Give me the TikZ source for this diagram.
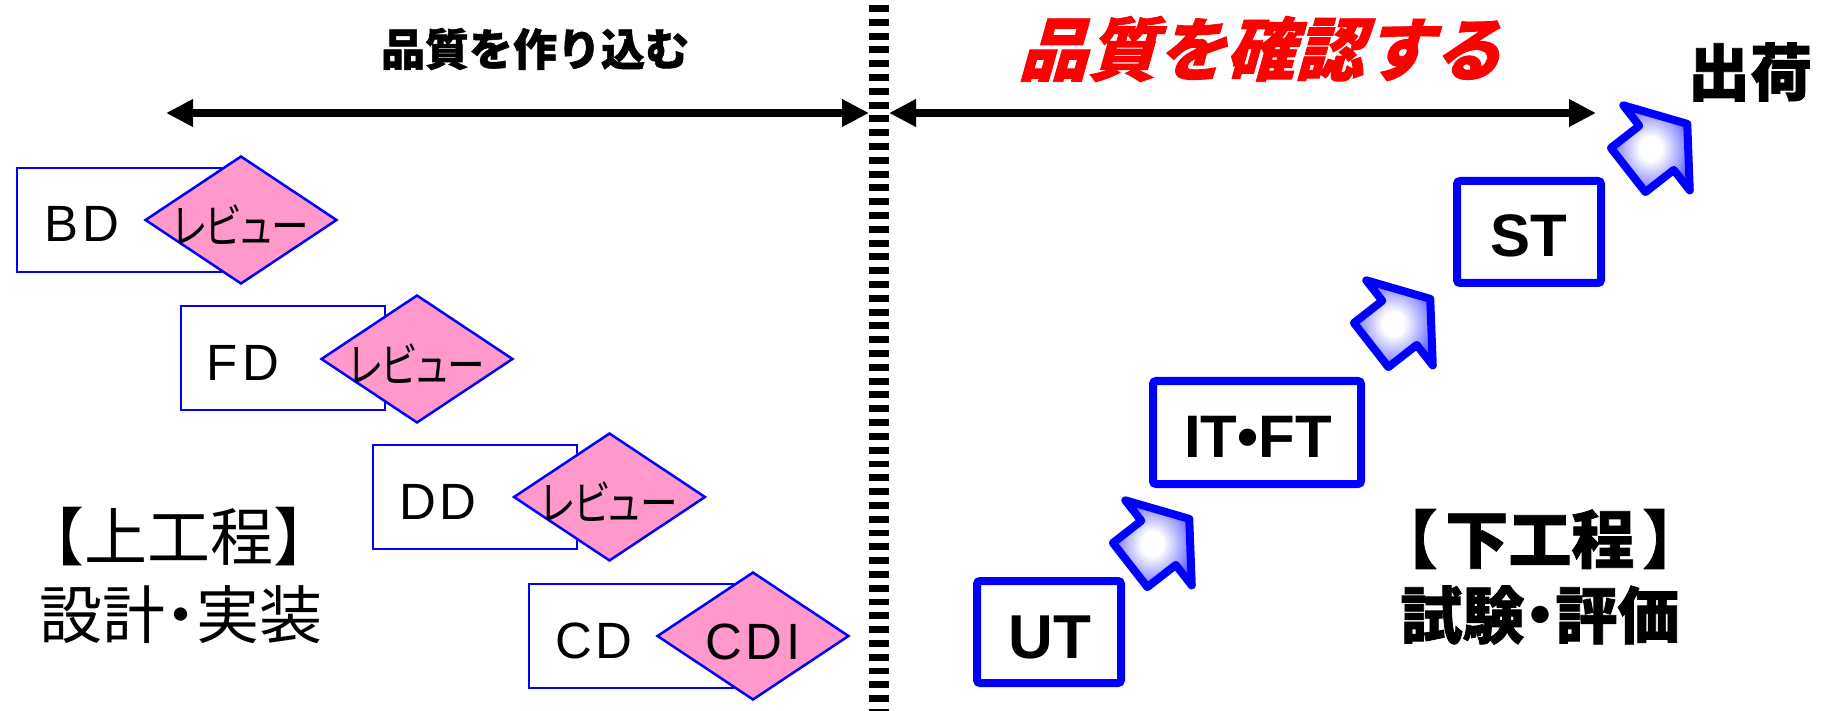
\documentclass[tikz,border=0pt]{standalone}
\usepackage{fontspec}
\setmainfont{Liberation Sans}
\newfontfamily\jp{Noto Sans CJK JP}
\newfontfamily\jph[FakeBold=1.2]{Noto Sans CJK JP}
\newfontfamily\jpp[RawFeature=+palt]{Noto Sans CJK JP}
\newfontfamily\jpit[FakeSlant=0.28, FakeBold=1.2]{Noto Sans CJK JP}
\newfontfamily\lat[LetterSpace=8]{Liberation Sans}
\usetikzlibrary{shapes.geometric,arrows.meta}
\definecolor{pinkfill}{RGB}{255,153,204}
\pgfdeclareradialshading{arrowshade}{\pgfpoint{0bp}{0bp}}{color(0bp)=(white); color(7bp)=(white); color(20bp)=(blue!40!white); color(36bp)=(blue); color(50bp)=(blue)}
\tikzset{
  dbox/.style={draw=blue, line width=2.5pt, minimum width=204pt, minimum height=104pt, inner sep=0pt, fill=white},
  rev/.style={diamond, draw=blue, line width=2.5pt, fill=pinkfill, minimum width=192pt, minimum height=128pt, inner sep=0pt, aspect=1.5},
  dlabel/.style={anchor=base, inner sep=0pt, font=\lat\fontsize{51}{51}\selectfont},
  rlabel/.style={inner sep=0pt, font=\jpp\fontsize{47}{47}\selectfont},
  tbox/.style={draw=blue, line width=8pt, rounded corners=3pt, inner sep=0pt, fill=white},
  tlabel/.style={anchor=base, inner sep=0pt, font=\bfseries\fontsize{62}{62}\selectfont},
  blockarrow/.style={draw=blue, line width=8pt, line join=round, shading=arrowshade},
  dbl/.style={line width=8pt, {Triangle[length=27pt,width=26pt]}-{Triangle[length=27pt,width=26pt]}},
}
\newcommand\barrowat[1]{\shadedraw[blockarrow, shift={#1}, rotate=38] (4,-28) -- (40,-28) -- (40,-54) -- (79,0) -- (40,54) -- (40,28) -- (4,28) -- cycle;}
\newcommand\review{\scalebox{0.8}[1]{レビュー}}
\begin{document}
\begin{tikzpicture}[x=1pt, y=-1pt]
\useasboundingbox (0,0) rectangle (1824,711);
\fill[white] (0,0) rectangle (1824,711);

% top titles
\node[inner sep=0pt, font=\jph\bfseries\fontsize{44}{44}\selectfont] (t1) at (535,49) {品質を作り込む};
\node[inner sep=0pt, text=red, font=\jpit\bfseries\fontsize{69}{69}\selectfont] (t2) at (1260,49) {品質を確認する};
\node[inner sep=0pt, font=\jph\bfseries\fontsize{62}{62}\selectfont] (ship) at (1750,72) {出荷};

% top arrows
\coordinate (la) at (166,113);
\coordinate (lb) at (869,113);
\coordinate (ra) at (889,113);
\coordinate (rb) at (1596,113);
\draw[dbl] (la) -- (lb);
\draw[dbl] (ra) -- (rb);

% divider
\coordinate (dtop) at (879,0);
\coordinate (dbot) at (879,711);
\draw[line width=20pt, dash pattern=on 6.9pt off 6.9pt, dash phase=8.7pt] (dtop) -- (dbot);

% left side
\node[dbox] (bd) at (119,220) {};
\node[rev] (bdr) at (241,220) {};
\node[dlabel] (bdt) at (82,242) {BD};
\node[rlabel] (bdrt) at (241,225) {\review};

\node[dbox] (fd) at (283,358) {};
\node[rev] (fdr) at (417,359) {};
\node[dlabel] (fdt) at (243,381) {FD};
\node[rlabel] (fdrt) at (417,364) {\review};

\node[dbox] (dd) at (475,497) {};
\node[rev] (ddr) at (609.5,497) {};
\node[dlabel] (ddt) at (438,519) {DD};
\node[rlabel] (ddrt) at (609.5,502) {\review};

\node[dbox] (cd) at (631,636) {};
\node[rev] (cdr) at (753,636) {};
\node[dlabel] (cdt) at (594,658) {CD};
\node[dlabel] (cdrt) at (753,659) {CDI};

\node[inner sep=0pt, font=\jp\fontsize{63}{63}\selectfont] (up1) at (179,537) {【上工程】};
\node[inner sep=0pt, font=\jp\fontsize{63}{63}\selectfont] (up2) at (181,615) {設計{\jpp ・}実装};

% right side
\node[tbox, minimum width=144pt, minimum height=102pt] (ut) at (1049,632) {};
\node[tlabel] (utt) at (1050,658) {UT};
\node[tbox, minimum width=208pt, minimum height=103pt] (it) at (1257,432.5) {};
\node[tlabel, font=\bfseries\fontsize{60}{60}\selectfont] (itt) at (1258,457) {IT•FT};
\node[tbox, minimum width=144pt, minimum height=102pt] (st) at (1529,232) {};
\node[tlabel, font=\bfseries\fontsize{60}{60}\selectfont] (stt) at (1529,257) {ST};

\barrowat{(1127,567.5)}
\barrowat{(1368,347.5)}
\barrowat{(1625,172.5)}

\node[inner sep=0pt, font=\jph\bfseries\fontsize{63}{63}\selectfont] (dn1) at (1540,539) {【\hspace{8pt}下工程\hspace{8pt}】};
\node[inner sep=0pt, font=\jph\bfseries\fontsize{62}{62}\selectfont] (dn2) at (1540,615) {試験{\jpp ・}評価};
\end{tikzpicture}
\end{document}
